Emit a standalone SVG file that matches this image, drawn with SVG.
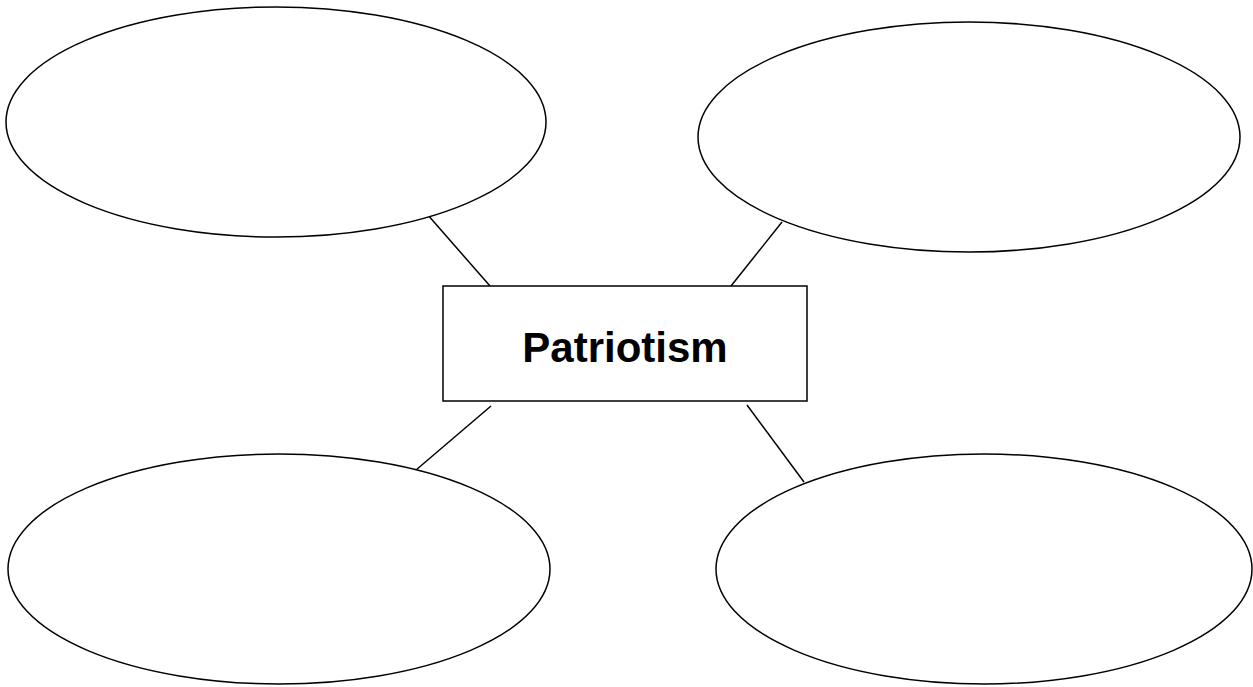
<svg xmlns="http://www.w3.org/2000/svg" width="1253" height="687" viewBox="0 0 1253 687">
<style>
.n{fill:#fff;stroke:#000;stroke-width:1.5}
.c line{stroke:#000;stroke-width:1.5}
.t{font-family:"Liberation Sans",Arial,sans-serif;font-weight:bold;font-size:42px;fill:#000}
</style>
<rect width="1253" height="687" fill="#fff"/>
<g class="c" id="connectors">
<line x1="427" y1="214" x2="490" y2="286"/>
<line x1="782" y1="222" x2="731" y2="286"/>
<line x1="491" y1="406" x2="416" y2="470"/>
<line x1="747" y1="405" x2="804" y2="482"/>
</g>
<g id="ellipse-tl"><ellipse class="n" cx="276" cy="122" rx="270" ry="115"/></g>
<g id="ellipse-tr"><ellipse class="n" cx="969" cy="137" rx="271" ry="115"/></g>
<g id="ellipse-bl"><ellipse class="n" cx="279" cy="569" rx="271" ry="115"/></g>
<g id="ellipse-br"><ellipse class="n" cx="984" cy="569" rx="268" ry="115"/></g>
<g id="center"><rect class="n" x="443" y="286" width="364" height="115"/>
<text class="t" x="625" y="362" text-anchor="middle">Patriotism</text></g>
</svg>
